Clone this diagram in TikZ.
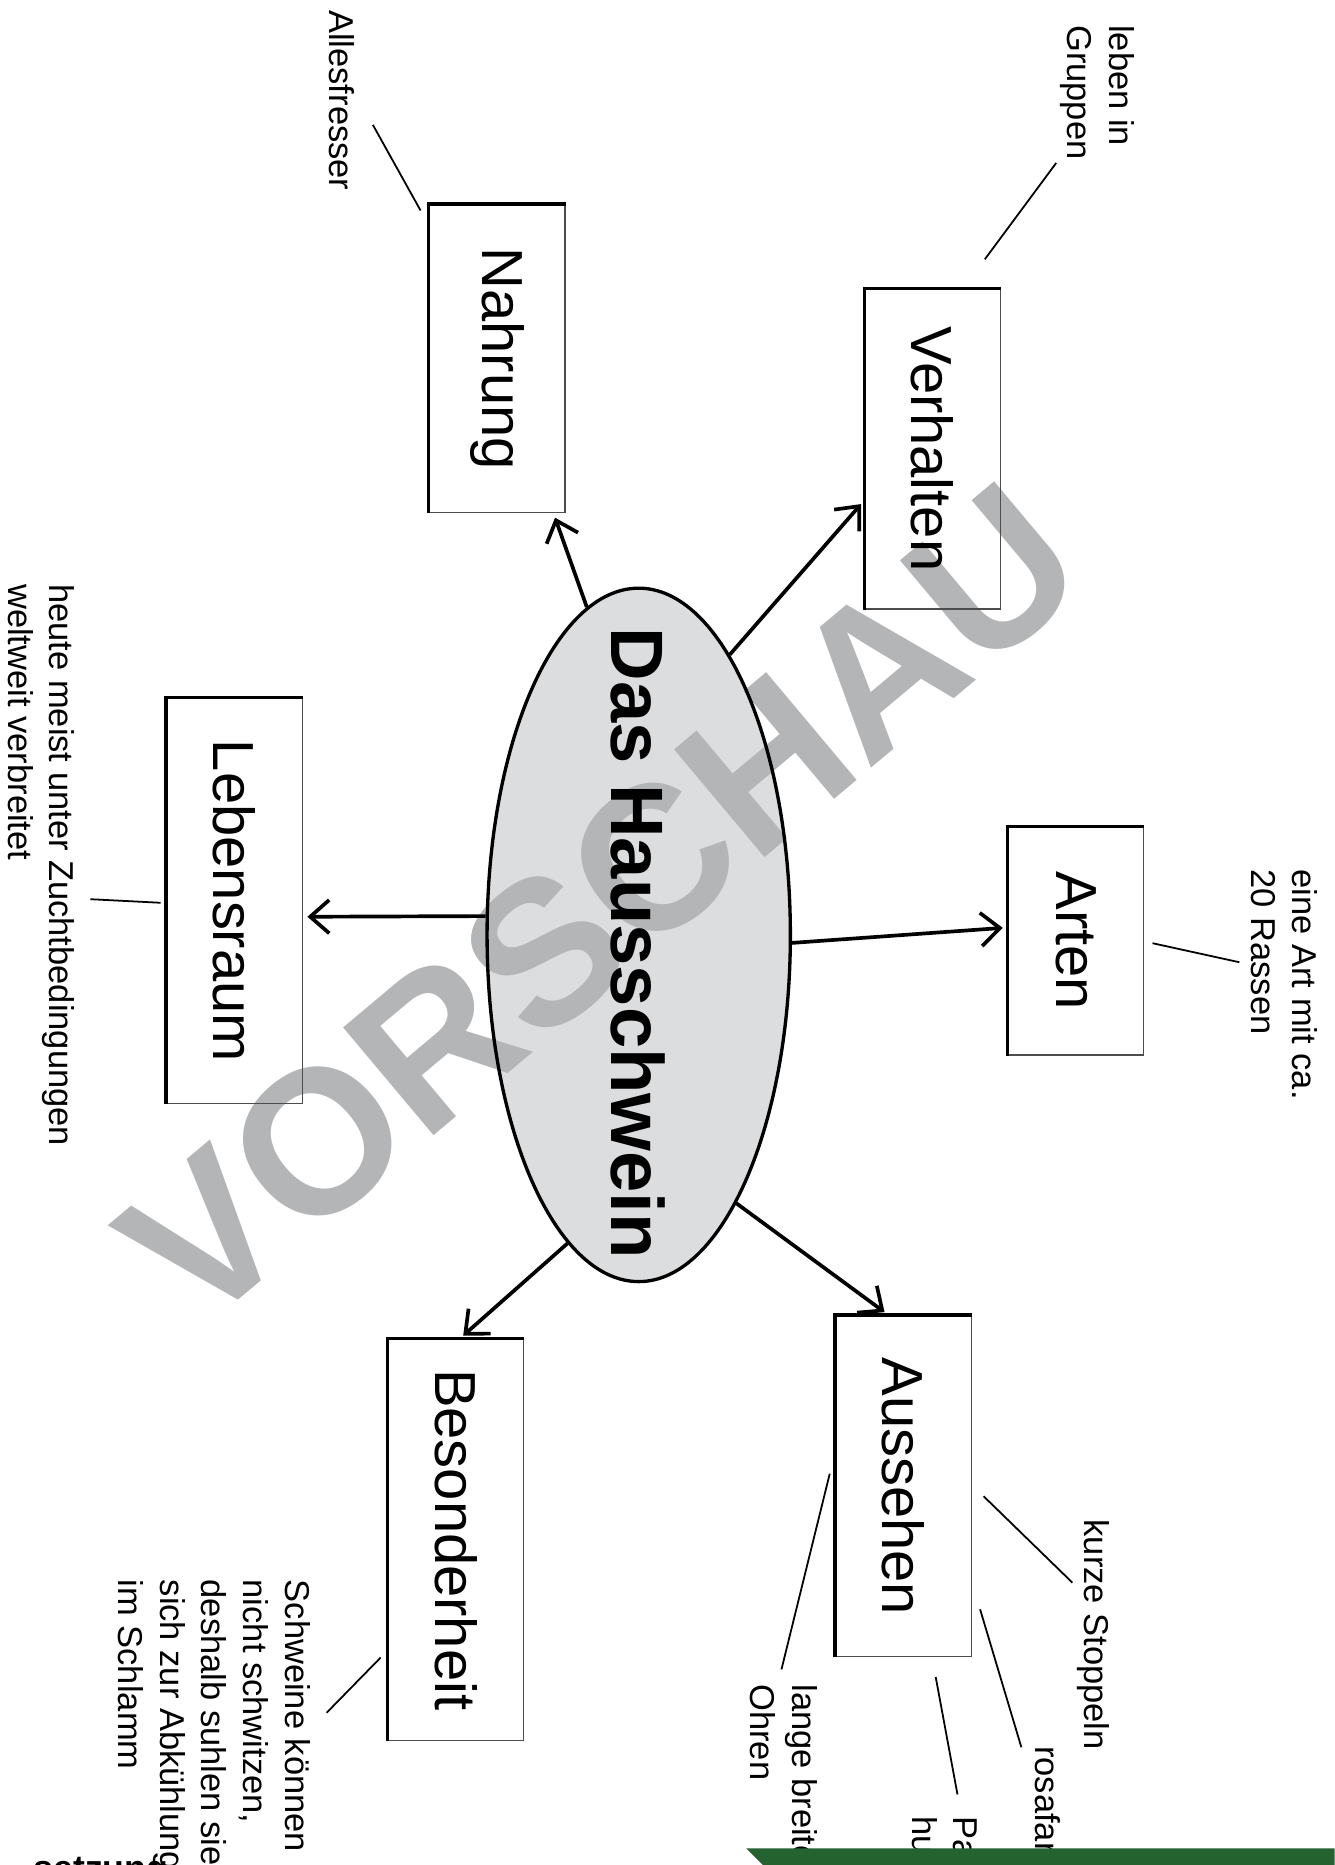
\documentclass[tikz,border=0pt]{standalone}
\usepackage{fontspec}
\usepackage{graphicx}
\setmainfont{Liberation Sans}
\usetikzlibrary{arrows.meta,calc,shapes.geometric}
\definecolor{ellfill}{RGB}{220,221,223}
\definecolor{wmgray}{RGB}{180,181,183}
\definecolor{bandgreen}{RGB}{36,98,48}
\begin{document}
\begin{tikzpicture}[x=1pt,y=-1pt,
  boxsty/.style={draw=black!70, line width=0.9pt, inner sep=0pt, minimum width=114pt, font=\fontsize{48.7}{58}\selectfont},
  thickedge/.style={line width=2.6pt, black},
  labelsty/.style={font=\fontsize{29}{35}\selectfont, align=left, inner sep=0pt, rotate=-90, anchor=north west},
  conn/.style={line width=1.5pt, black},
  arr/.style={line width=3.1pt, black, -{Straight Barb[length=16pt,width=28pt]}, shorten >=4pt},
]
\useasboundingbox (0,0) rectangle (1122,1568);
\clip (0,0) rectangle (1122,1568);
\fill[white] (0,0) rectangle (1122,1568);

% central ellipse (fill)
\node[ellipse, draw=none, line width=2.8pt, fill=ellfill, minimum width=255pt, minimum height=583pt, inner sep=0pt] (ell) at (537,786) {};

% watermark
\node[rotate=40, text=wmgray, font=\fontsize{172}{172}\bfseries\selectfont, inner sep=0pt] (wm) at (505,760) {VORSCHAU};

% ellipse border above the watermark
\draw[line width=2.8pt] (ell.center) ellipse [x radius=127.5, y radius=291.5];

% boxes
\node[boxsty, minimum height=259pt] (nahrung) at (418,301.5) {\rotatebox{-90}{Nahrung}};
\node[boxsty, minimum height=269pt] (verhalten) at (784,377.5) {\rotatebox{-90}{Verhalten}};
\node[boxsty, minimum height=192pt] (arten) at (904.5,791) {\rotatebox{-90}{Arten}};
\node[boxsty, minimum height=341pt] (lebensraum) at (197,757.5) {\rotatebox{-90}{Lebensraum}};
\node[boxsty, minimum height=337pt] (besonderheit) at (383.5,1294.5) {\rotatebox{-90}{Besonderheit}};
\node[boxsty, minimum height=287pt] (aussehen) at (759.5,1249.5) {\rotatebox{-90}{Aussehen}};
\foreach \b in {nahrung,verhalten,arten,lebensraum,besonderheit,aussehen}
  \draw[thickedge] (\b.south west) -- (\b.north west) -- (\b.north east);

% title
\node[font=\fontsize{62.4}{70}\bfseries\selectfont, inner sep=0pt] (title) at (536,793) {\rotatebox{-90}{Das Hausschwein}};

% arrows
\draw[arr] (ell.99.7) -- (nahrung.-70);
\draw[arr] (ell.72.2) -- (verhalten.217.5);
\draw[arr] (ell.-3.1) -- (arten.169.9);
\draw[arr] (ell.173.3) -- (lebensraum.-13.3);
\draw[arr] (ell.257) -- (besonderheit.89);
\draw[arr] (ell.-70.3) -- (aussehen.95);

% labels
\node[labelsty] (lab1) at (298,8.4) {Allesfresser};
\node[labelsty] (lab2) at (954,21) {leben in\\Gruppen};
\node[labelsty] (lab3) at (1108,731) {eine Art mit ca.\\20 Rassen};
\node[labelsty] (lab4) at (63,491) {heute meist unter Zuchtbedingungen\\weltweit verbreitet};
\node[labelsty] (lab5) at (261,1328) {Schweine können\\nicht schwitzen,\\deshalb suhlen sie\\sich zur Abkühlung\\im Schlamm};
\node[labelsty] (lab6) at (933,1277.5) {kurze Stoppeln};
\node[labelsty] (lab7) at (892,1468) {rosafarbene Haut};
\node[labelsty] (lab8) at (822,1527) {Paar-\\hufer};
\node[labelsty] (lab9) at (687.5,1416) {lange breite\\Ohren};

% label connectors
\coordinate (c1a) at (313.5,105);  \coordinate (c1b) at (353.6,177);
\coordinate (c2a) at (888,137);    \coordinate (c2b) at (828,218);
\coordinate (c3a) at (969,793);    \coordinate (c3b) at (1042,809);
\coordinate (c4a) at (76,756);     \coordinate (c4b) at (135,759);
\coordinate (c5a) at (274.6,1440); \coordinate (c5b) at (320,1393.6);
\coordinate (c6a) at (827,1258);   \coordinate (c6b) at (901.6,1330.6);
\coordinate (c7a) at (824,1353);   \coordinate (c7b) at (858.7,1469);
\coordinate (c8a) at (786.7,1410); \coordinate (c8b) at (805,1508.7);
\coordinate (c9a) at (697.6,1239); \coordinate (c9b) at (657,1403.6);
\foreach \i in {1,...,9} \draw[conn] (c\i a) -- (c\i b);

% footer
\node[font=\fontsize{30}{30}\bfseries\selectfont, anchor=base west, inner sep=0pt] (foot) at (28,1581) {setzung};
\fill[bandgreen] (627.5,1554) -- (1122,1554) -- (1122,1570) -- (643.5,1570) -- cycle;
\end{tikzpicture}
\end{document}
